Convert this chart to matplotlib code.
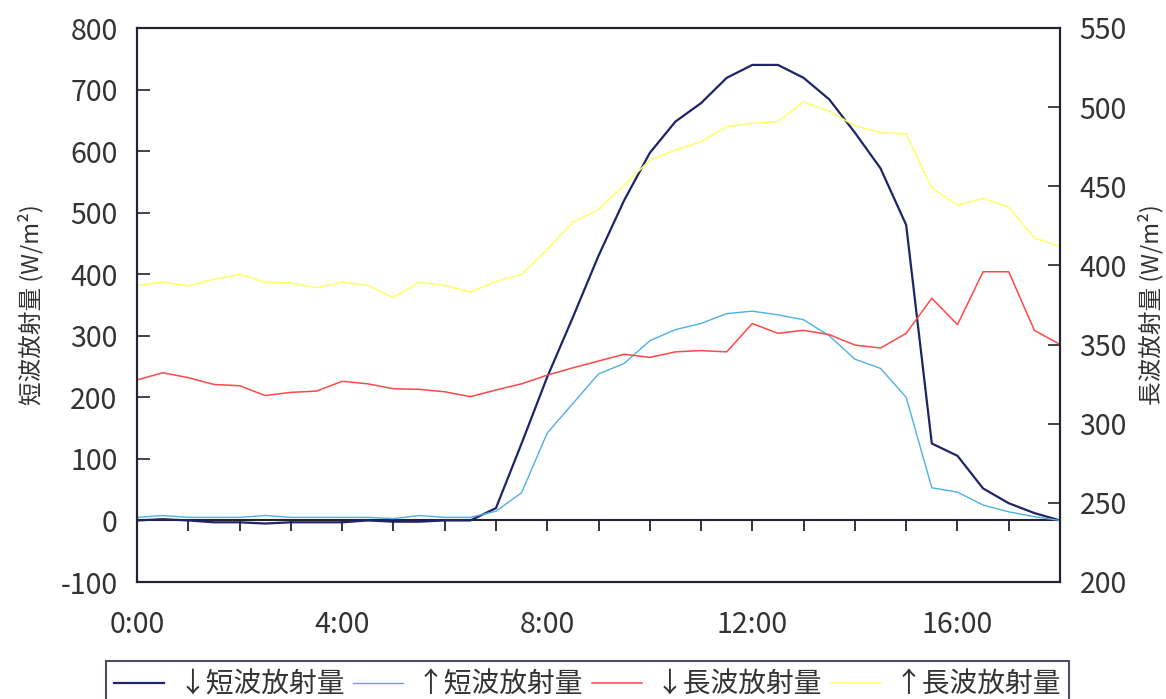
import matplotlib
matplotlib.use("Agg")
import matplotlib.pyplot as plt
from matplotlib.ticker import MultipleLocator, FixedLocator

plt.rcParams['font.family'] = ['Noto Sans CJK JP', 'DejaVu Sans']
plt.rcParams['axes.unicode_minus'] = False

# ------------------------------------------------------------
# data (30-min steps)
# ------------------------------------------------------------

times = ["0:00", "0:30", "1:00", "1:30", "2:00", "2:30", "3:00", "3:30",
         "4:00", "4:30", "5:00", "5:30", "6:00", "6:30", "7:00", "7:30",
         "8:00", "8:30", "9:00", "9:30", "10:00", "10:30", "11:00", "11:30",
         "12:00", "12:30", "13:00", "13:30", "14:00", "14:30", "15:00",
         "15:30", "16:00", "16:30", "17:00", "17:30", "18:00"]

# left axis (W/m2)
sw_down = [0, 2, 0, -3, -3, -5, -3, -3, -3, 0, -2, -2, 0, 0, 20, 125,
           233, 330, 430, 520, 597, 648, 678, 719, 740, 740, 719, 684,
           630, 572, 480, 125, 105, 52, 28, 12, 0]
sw_up = [5, 8, 5, 5, 5, 8, 5, 5, 5, 5, 3, 8, 5, 5, 15, 45,
         142, 190, 238, 255, 292, 310, 320, 336, 340, 334, 326, 300,
         262, 247, 200, 53, 46, 25, 14, 6, 0]

# right axis (W/m2)
lw_down = [327.6, 332.2, 329.1, 324.8, 324.0, 317.8, 319.8, 320.6,
           326.8, 325.2, 322.1, 321.7, 320.2, 317.1, 321.3, 325.2,
           330.7, 335.3, 339.6, 343.9, 341.9, 345.4, 346.2, 345.4,
           363.3, 357.1, 359.0, 356.3, 349.7, 347.8, 357.1, 379.3,
           362.6, 396.0, 396.0, 359.0, 350.1]
lw_up = [387.4, 389.4, 387.1, 391.3, 394.4, 389.4, 389.0, 385.9,
         389.4, 387.4, 379.7, 389.4, 387.4, 383.2, 389.8, 394.4,
         410.0, 427.5, 435.3, 450.8, 466.4, 473.0, 478.1, 487.8,
         489.7, 490.9, 503.3, 497.5, 488.2, 483.9, 483.1, 448.9,
         438.0, 442.3, 436.8, 417.4, 411.9]

hours = [int(t.split(":")[0]) + int(t.split(":")[1]) / 60 for t in times]

labels = ["↓短波放射量", "↑短波放射量", "↓長波放射量", "↑長波放射量"]
colors = ["#1e2468", "#4fb0e2", "#ff4848", "#ffff66"]

FRAME = "#222233"
TXT = "#333333"

# ------------------------------------------------------------
# figure
# ------------------------------------------------------------

fig = plt.figure(figsize=(11.66, 6.99), dpi=100)
ax = fig.add_axes([137 / 1166, 1 - 582 / 699, 923 / 1166, 554 / 699])
ax2 = ax.twinx()

l1, = ax.plot(hours, sw_down, color=colors[0], lw=1.6, zorder=3)
l2, = ax.plot(hours, sw_up, color=colors[1], lw=1.0, zorder=3)
l3, = ax2.plot(hours, lw_down, color=colors[2], lw=1.1)
l4, = ax2.plot(hours, lw_up, color=colors[3], lw=1.1)

ax.set_xlim(0, 18)
ax.set_ylim(-100, 800)
ax2.set_ylim(200, 550)

ax.yaxis.set_major_locator(MultipleLocator(100))
ax2.yaxis.set_major_locator(MultipleLocator(50))

ax.tick_params(axis='y', direction='in', length=9, width=1.2,
               pad=14, labelsize=20.5, labelcolor=TXT, color=FRAME)
ax2.tick_params(axis='y', direction='in', length=9, width=1.2,
                pad=14, labelsize=20.5, labelcolor=TXT, color=FRAME)

# labels at the frame bottom, no marks there
ax.xaxis.set_major_locator(FixedLocator([0, 4, 8, 12, 16]))
ax.set_xticklabels(["0:00", "4:00", "8:00", "12:00", "16:00"])
ax.tick_params(axis='x', length=0, pad=20, labelsize=20.5, labelcolor=TXT)

# the zero line with hourly marks
sec = ax.secondary_xaxis(100 / 900)
sec.set_xticks(range(1, 18))
sec.set_xticklabels([])
sec.tick_params(axis='x', direction='out', length=8, width=1.3, color=FRAME)
sec.spines['bottom'].set_color(FRAME)
sec.spines['bottom'].set_linewidth(1.5)

for a in (ax, ax2):
    for s in a.spines.values():
        s.set_color(FRAME)
        s.set_linewidth(1.5)

ax.set_ylabel("短波放射量 (W/m²)", fontsize=17, color=TXT, labelpad=12)
ax2.set_ylabel("長波放射量 (W/m²)", fontsize=17, color=TXT,
               rotation=90, labelpad=8)

leg = fig.legend([l1, l2, l3, l4], labels, loc='upper center',
                 bbox_to_anchor=(0.504, 1 - 661 / 699), ncol=4,
                 fontsize=20, frameon=True, fancybox=False,
                 handlelength=1.8, handletextpad=0.5, columnspacing=0.3,
                 borderpad=0.3, borderaxespad=0)
leg.get_frame().set_edgecolor(FRAME)
leg.get_frame().set_linewidth(1.5)
for t in leg.get_texts():
    t.set_color(TXT)

fig.savefig("out.png", dpi=100)
